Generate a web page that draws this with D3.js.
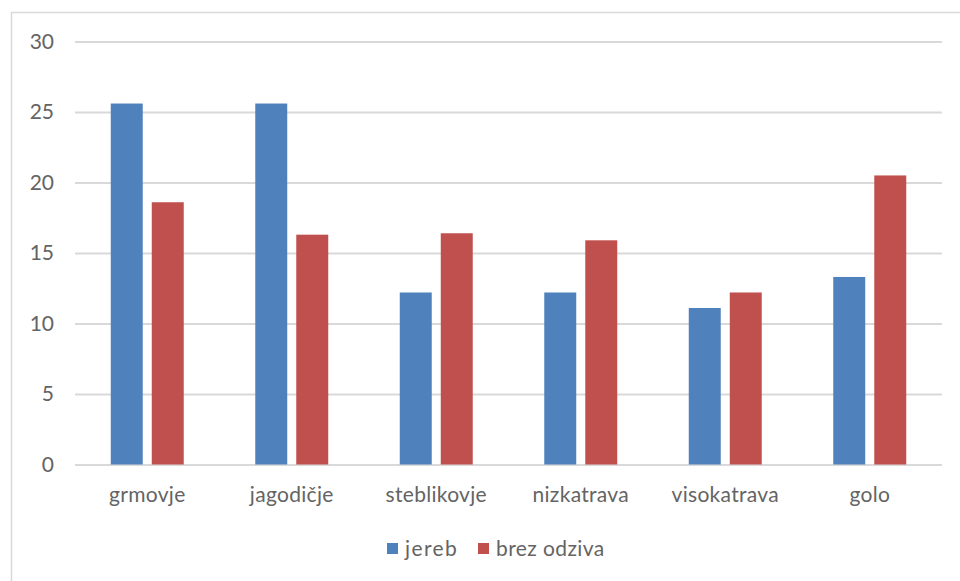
<!DOCTYPE html>
<html><head><meta charset="utf-8">
<script src="https://cdn.jsdelivr.net/npm/d3@7"></script>
<style>html,body{margin:0;padding:0;background:#fff;}svg{display:block;}</style>
</head><body>
<svg id="chart" width="960" height="581"></svg>
<script>
const categories = ["grmovje","jagodičje","steblikovje","nizkatrava","visokatrava","golo"];
const seriesNames = ["jereb","brez odziva"];
const jereb = [25.6, 25.6, 12.2, 12.2, 11.1, 13.3];
const brezOdziva = [18.6, 16.3, 16.4, 15.9, 12.2, 20.5];
const yTicks = [0,5,10,15,20,25,30];
const colors = ["#4F81BD","#C0504D"];

const svg = d3.select("#chart");
const font = "Lato, 'Open Sans', sans-serif";
const textColor = "#646464";

// outer chart border
svg.append("rect").attr("x",11.5).attr("y",12.5).attr("width",1000).attr("height",1000)
  .attr("fill","none").attr("stroke","#d9d9d9").attr("stroke-width",1.5);

const x0 = d3.scaleBand().domain(categories).range([75, 942]).padding(0);
const x1 = d3.scaleBand().domain(seriesNames).range([0, x0.bandwidth()]).paddingInner(0.22).paddingOuter(0.872);
const y = d3.scaleLinear().domain([0,30]).range([464.5, 41.5]);

// gridlines
const yAxis = d3.axisLeft(y).tickValues(yTicks).tickSize(-(942-75)).tickPadding(21).tickFormat(d3.format("d"));
const gy = svg.append("g").attr("transform","translate(75,0)").call(yAxis);
gy.select(".domain").remove();
gy.selectAll(".tick line").attr("stroke","#d9d9d9").attr("stroke-width",2);
gy.selectAll(".tick text").attr("fill",textColor).style("font-family",font).style("font-size","21px");

const data = categories.map((c,i)=>({cat:c, vals:[jereb[i], brezOdziva[i]]}));
const groups = svg.append("g").selectAll("g").data(data).join("g")
  .attr("transform", d=>`translate(${x0(d.cat)},0)`);
groups.selectAll("rect").data(d=>d.vals.map((v,j)=>({name:seriesNames[j], v, j})))
  .join("rect")
  .attr("x", d=>x1(d.name)).attr("width", x1.bandwidth())
  .attr("y", d=>y(d.v)).attr("height", d=>y(0)-y(d.v))
  .attr("fill", d=>colors[d.j]);

// x axis labels
const xAxis = d3.axisBottom(x0).tickSize(0).tickPadding(23);
const gx = svg.append("g").attr("transform","translate(0,464.5)").call(xAxis);
gx.select(".domain").remove();
gx.selectAll(".tick text").attr("fill",textColor).style("font-family",font).style("font-size","21px")
  .style("letter-spacing","0.3px");

// legend
const legendItems = [{name:"jereb", x:387},{name:"brez odziva", x:478}];
const lg = svg.append("g").selectAll("g").data(legendItems).join("g")
  .attr("transform", d=>`translate(${d.x},0)`);
lg.append("rect").attr("x",0).attr("y",543).attr("width",11).attr("height",11)
  .attr("fill",(d,i)=>colors[i]);
lg.append("text").attr("x",18).attr("y",556).text(d=>d.name)
  .attr("fill",textColor).style("font-family",font).style("font-size","21px")
  .style("letter-spacing",(d,i)=>i===0?"1.4px":"0.4px");
</script>
</body></html>
